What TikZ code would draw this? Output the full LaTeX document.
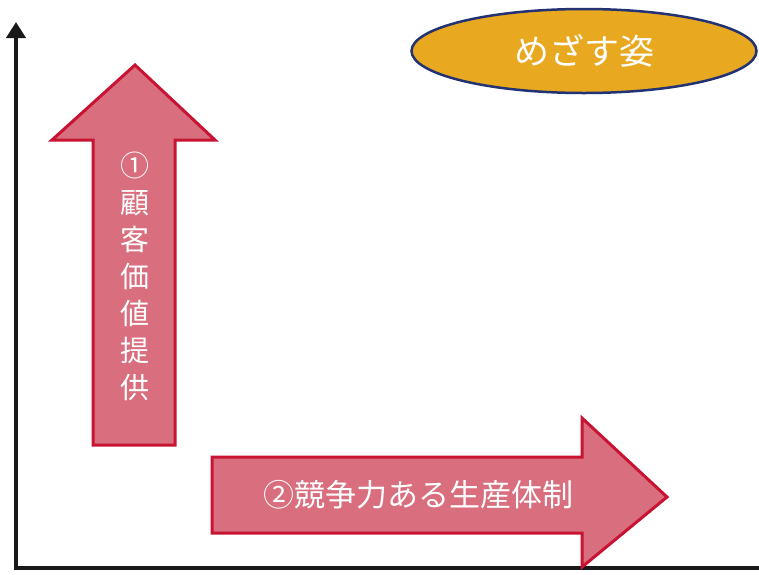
\documentclass[tikz,border=0pt]{standalone}
\usepackage{fontspec}
\newfontfamily\jp{Noto Sans CJK JP}
\usetikzlibrary{shapes.geometric,arrows.meta}
\definecolor{arrowfill}{RGB}{216,110,126}
\definecolor{arrowline}{RGB}{200,20,50}
\definecolor{goal}{RGB}{232,168,32}
\definecolor{goalline}{RGB}{35,50,115}
\tikzset{
  bigarrow/.style={fill=arrowfill, draw=arrowline, line width=3pt, line join=miter},
  axis/.style={draw=black!90, line width=4.5pt},
  lbl/.style={text=white, font=\jp, inner sep=0pt, align=center}
}
\begin{document}
\begin{tikzpicture}[x=1pt,y=-1pt]
\useasboundingbox (0,0) rectangle (759,574);
\clip (0,0) rectangle (759,574);
% axes
\coordinate (o) at (16,568);
\coordinate (ytop) at (16,22);
\coordinate (xend) at (765,568);
\draw[axis, -{Triangle[width=19pt,length=16pt]}] (o) -- (ytop);
\draw[axis] ([xshift=-2.25pt]o) -- (xend);
% up arrow
\draw[bigarrow] (93,445) -- (93,140) -- (52,140) -- (135,65) -- (215,140) -- (175,140) -- (175,445) -- cycle;
\node[lbl, font=\jp\fontsize{29}{37}\selectfont] (up) at (135,276) {①\\顧\\客\\価\\値\\提\\供};
% right arrow
\draw[bigarrow] (212,457) -- (582,457) -- (582,418) -- (667,497) -- (582,567) -- (582,533) -- (212,533) -- cycle;
\node[lbl, font=\jp\fontsize{31}{36}\selectfont] (right) at (418,495) {②競争力ある生産体制};
% goal ellipse
\node[ellipse, fill=goal, draw=goalline, line width=2.5pt, minimum width=345pt, minimum height=84pt, inner sep=0pt] (goal) at (584,51) {};
\node[lbl, font=\jp\fontsize{35}{40}\selectfont] (goaltext) at (goal.center) {めざす姿};
\end{tikzpicture}
\end{document}
